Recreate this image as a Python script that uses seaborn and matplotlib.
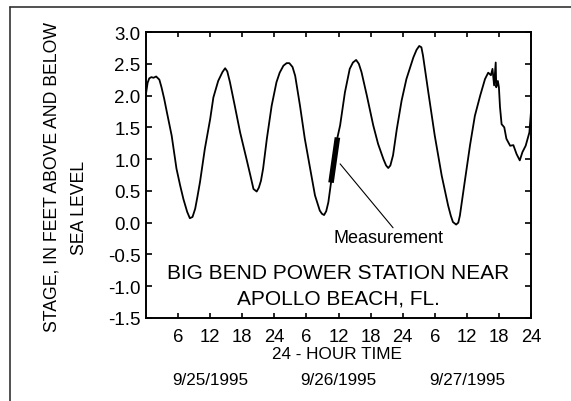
import numpy as np
import pandas as pd
import matplotlib
matplotlib.use("Agg")
import matplotlib.pyplot as plt
from matplotlib.lines import Line2D
import seaborn as sns

# ---- data (hours since 9/25/1995 00:00, stage in feet) ----
hours = [0, 0.3, 0.6, 1.0, 1.4, 1.9, 2.5, 2.9, 3.4, 3.9, 4.8, 5.7, 6.4, 7.0, 7.7,
         8.2, 8.7, 9.2, 9.6, 10.1, 11.0, 12.0, 12.6, 13.5, 14.3, 14.8, 15.2,
         15.7, 16.6, 17.6, 18.8, 19.5, 20.1, 20.7, 21.1, 21.5, 21.9, 22.6, 23.5,
         24.4, 25.0, 25.7, 26.3, 26.8, 27.4, 27.9, 28.8, 29.7, 30.7, 31.6, 32.5,
         32.9, 33.3, 33.7, 34.1, 34.6, 35.8, 36.3, 37.2, 38.1, 38.7, 39.3, 39.8,
         40.3, 41.3, 42.5, 43.4, 44.4, 44.9, 45.3, 45.7, 46.2, 46.9, 47.8, 48.7,
         50.0, 50.6, 51.1, 51.5, 51.8, 52.8, 54.0, 55.3, 56.5, 57.0, 57.4, 58.0,
         58.4, 58.7, 59.6, 60.6, 61.5, 62.5, 63.4, 64.0, 64.5, 64.8, 65.1, 65.4,
         65.5, 65.8, 66.0, 66.2, 66.5, 67.0, 67.4, 68.1, 68.7, 69.3, 69.9, 70.4,
         71.0, 71.7, 72.0]
stage = [2.03, 2.20, 2.27, 2.29, 2.28, 2.30, 2.25, 2.13, 1.95, 1.74, 1.37, 0.85,
         0.58, 0.37, 0.17, 0.07, 0.09, 0.22, 0.40, 0.64, 1.16, 1.63, 1.97, 2.23,
         2.37, 2.43, 2.38, 2.21, 1.84, 1.42, 1.00, 0.75, 0.53, 0.49, 0.55, 0.66,
         0.85, 1.32, 1.84, 2.21, 2.36, 2.47, 2.51, 2.51, 2.45, 2.31, 1.84, 1.32,
         0.85, 0.43, 0.19, 0.14, 0.12, 0.18, 0.32, 0.63, 1.34, 1.53, 2.05, 2.42,
         2.52, 2.56, 2.50, 2.37, 2.00, 1.53, 1.24, 1.00, 0.90, 0.86, 0.90, 1.06,
         1.47, 1.92, 2.26, 2.60, 2.72, 2.78, 2.76, 2.63, 2.05, 1.37, 0.74, 0.27,
         0.11, 0.01, -0.03, 0.00, 0.11, 0.64, 1.22, 1.68, 2.00, 2.26, 2.36, 2.32,
         2.42, 2.16, 2.52, 2.13, 2.23, 2.13, 1.82, 1.55, 1.50, 1.32, 1.21, 1.22,
         1.08, 0.98, 1.11, 1.21, 1.42, 1.75]

meas_hours = [34.6, 35.8]
meas_stage = [0.63, 1.34]

xtick_pos = [6, 12, 18, 24, 30, 36, 42, 48, 54, 60, 66, 72]
xtick_labels = ["6", "12", "18", "24", "6", "12", "18", "24", "6", "12", "18", "24"]
day_ticks = [24, 48]
date_pos = [12, 36, 60]
date_labels = ["9/25/1995", "9/26/1995", "9/27/1995"]
yticks = [-1.5, -1.0, -0.5, 0.0, 0.5, 1.0, 1.5, 2.0, 2.5, 3.0]

df = pd.DataFrame({"hour": hours, "stage": stage})
dm = pd.DataFrame({"hour": meas_hours, "stage": meas_stage})

sns.set_style("ticks")
plt.rcParams["font.family"] = ["Liberation Sans", "DejaVu Sans"]
plt.rcParams["text.color"] = "black"
plt.rcParams["xtick.color"] = "black"
plt.rcParams["ytick.color"] = "black"

W, H = 571, 402
fig = plt.figure(figsize=(W / 100, H / 100), dpi=100)
ax = fig.add_axes([146 / W, 1 - 319 / H, (531 - 146) / W, (319 - 33) / H])

sns.lineplot(data=df, x="hour", y="stage", ax=ax, color="black", lw=1.3,
             estimator=None, sort=False)
sns.lineplot(data=dm, x="hour", y="stage", ax=ax, color="black", lw=4,
             estimator=None, sort=False, solid_capstyle="butt")

ax.set_xlim(0, 72)
ax.set_ylim(-1.5, 3.0)
ax.set_xticks(xtick_pos)
ax.set_xticklabels(xtick_labels)
ax.set_xticks(day_ticks, minor=True)
ax.set_yticks(yticks)
ax.set_yticklabels([f"{v:.1f}" for v in yticks])
ax.tick_params(axis="x", which="major", direction="in", length=3.5, width=1.2,
               top=True, bottom=True, labelsize=13.3, pad=7,
               colors="black", labelcolor="black")
ax.tick_params(axis="x", which="minor", direction="in", length=7, width=1.2,
               top=True, bottom=True, colors="black")
ax.tick_params(axis="y", direction="in", length=4, width=1.2, left=True,
               right=True, labelsize=13.5, pad=4, colors="black", labelcolor="black")
for s in ax.spines.values():
    s.set_visible(True)
    s.set_linewidth(1.4)
    s.set_color("black")
ax.set_xlabel("")
ax.set_ylabel("")

# annotation
ax.plot([36.3, 46.2], [0.925, -0.08], color="black", lw=0.8)
ax.text(45.4, -0.23, "Measurement", ha="center", va="center", fontsize=13, color="black")
ax.text(36, -0.78, "BIG BEND POWER STATION NEAR", ha="center", va="center",
        fontsize=15, color="black")
ax.text(36, -1.19, "APOLLO BEACH, FL.", ha="center", va="center", fontsize=15,
        color="black")

# x-axis labels below
fig.text(337 / W, 1 - 355 / H, "24 - HOUR TIME", ha="center", va="center",
         fontsize=12.3, color="black")
for p, lab in zip(date_pos, date_labels):
    xf = (146 + p / 72 * 385) / W
    fig.text(xf, 1 - 381 / H, lab, ha="center", va="center", fontsize=12.3, color="black")

# y label (two lines)
fig.text(52 / W, 1 - 177.5 / H, "STAGE, IN FEET ABOVE AND BELOW", rotation=90,
         ha="center", va="center", fontsize=12.7, color="black")
fig.text(80 / W, 1 - 207.5 / H, "SEA LEVEL", rotation=90,
         ha="center", va="center", fontsize=12.7, color="black")

# outer frame (top and left edges)
fig.add_artist(Line2D([10 / W, 10 / W], [0, 1 - 8 / H], color="#333333", lw=1.2))
fig.add_artist(Line2D([10 / W, 1], [1 - 8 / H, 1 - 8 / H], color="#333333", lw=1.2))

fig.savefig("out.png", dpi=100)
